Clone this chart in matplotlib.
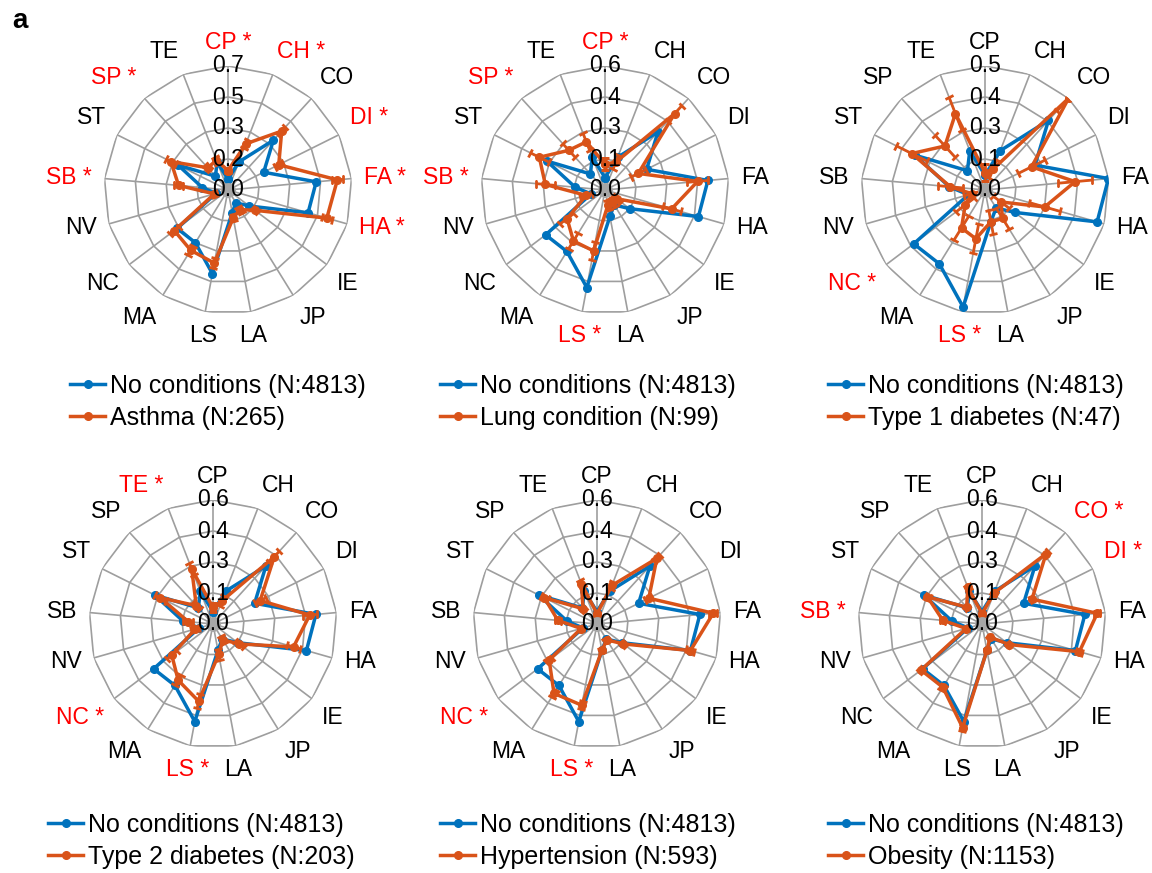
#!/usr/bin/env python3
import matplotlib
matplotlib.use("Agg")
import matplotlib.pyplot as plt
import numpy as np

plt.rcParams["font.family"] = ["Liberation Sans", "DejaVu Sans"]

CATEGORIES = ["CP", "CH", "CO", "DI", "FA", "HA", "IE", "JP", "LA",
              "LS", "MA", "NC", "NV", "SB", "ST", "SP", "TE"]

# reference group, same in every panel
NO_CONDITIONS = [0.06, 0.17, 0.38, 0.225, 0.50, 0.47, 0.15, 0.085, 0.13,
                 0.48, 0.35, 0.36, 0.07, 0.145, 0.315, 0.105, 0.17]
NO_CONDITIONS_LABEL = "No conditions (N:4813)"

ASTHMA = [0.11, 0.28, 0.45, 0.32, 0.62, 0.58, 0.19, 0.13, 0.16,
          0.42, 0.40, 0.38, 0.08, 0.28, 0.36, 0.17, 0.18]
ASTHMA_ERR = [0.015, 0.025, 0.03, 0.025, 0.03, 0.03, 0.02, 0.02, 0.02,
              0.03, 0.03, 0.03, 0.015, 0.025, 0.03, 0.02, 0.02]

LUNG = [0.125, 0.145, 0.50, 0.18, 0.45, 0.335, 0.07, 0.07, 0.075,
        0.30, 0.29, 0.23, 0.095, 0.29, 0.355, 0.26, 0.25]
LUNG_ERR = [0.03, 0.035, 0.05, 0.04, 0.05, 0.045, 0.025, 0.025, 0.025,
            0.045, 0.045, 0.04, 0.03, 0.045, 0.05, 0.045, 0.045]

TYPE1 = [0.07, 0.09, 0.50, 0.21, 0.365, 0.25, 0.08, 0.135, 0.13,
         0.20, 0.18, 0.10, 0.055, 0.14, 0.33, 0.24, 0.33]
TYPE1_ERR = [0.035, 0.04, 0.07, 0.06, 0.07, 0.065, 0.04, 0.05, 0.05,
             0.06, 0.055, 0.045, 0.035, 0.05, 0.07, 0.06, 0.07]

TYPE2 = [0.08, 0.12, 0.44, 0.255, 0.47, 0.405, 0.16, 0.09, 0.15,
         0.38, 0.32, 0.25, 0.09, 0.12, 0.285, 0.12, 0.285]
TYPE2_ERR = [0.02, 0.025, 0.035, 0.03, 0.035, 0.035, 0.025, 0.02, 0.025,
             0.035, 0.03, 0.03, 0.02, 0.025, 0.03, 0.025, 0.03]

HYPERTENSION = [0.05, 0.20, 0.43, 0.28, 0.565, 0.47, 0.16, 0.09, 0.13,
                0.40, 0.395, 0.29, 0.08, 0.19, 0.285, 0.10, 0.21]
HYPERTENSION_ERR = [0.01, 0.017, 0.02, 0.018, 0.02, 0.02, 0.015, 0.012, 0.014,
                    0.02, 0.02, 0.019, 0.011, 0.016, 0.019, 0.012, 0.017]

OBESITY = [0.05, 0.16, 0.46, 0.27, 0.56, 0.49, 0.165, 0.075, 0.13,
           0.51, 0.36, 0.37, 0.08, 0.19, 0.295, 0.11, 0.19]
OBESITY_ERR = [0.007, 0.011, 0.015, 0.013, 0.015, 0.015, 0.011, 0.008, 0.01,
               0.015, 0.014, 0.014, 0.008, 0.012, 0.013, 0.009, 0.012]

GROUP_LABELS = ["Asthma (N:265)", "Lung condition (N:99)", "Type 1 diabetes (N:47)",
                "Type 2 diabetes (N:203)", "Hypertension (N:593)", "Obesity (N:1153)"]
RMAX = [0.7, 0.6, 0.5, 0.6, 0.6, 0.6]
TICK_LABELS = [
    ["0.0", "0.2", "0.3", "0.5", "0.7"],
    ["0.0", "0.1", "0.3", "0.4", "0.6"],
    ["0.0", "0.1", "0.3", "0.4", "0.5"],
    ["0.0", "0.1", "0.3", "0.4", "0.6"],
    ["0.0", "0.1", "0.3", "0.4", "0.6"],
    ["0.0", "0.1", "0.3", "0.4", "0.6"],
]
SIGNIFICANT = [
    ["CP", "CH", "DI", "FA", "HA", "SB", "SP"],
    ["CP", "SB", "SP", "LS"],
    ["NC", "LS"],
    ["TE", "NC", "LS"],
    ["NC", "LS"],
    ["CO", "DI", "SB"],
]

BLUE = "#0072BD"
ORANGE = "#D95319"
GRID = "#9e9e9e"

W, H = 1152, 873
R_PX = 124
CENTERS = [(228, 190), (605, 190), (985, 190), (213, 624), (597, 624), (982, 624)]
LEGEND_POS = [(70, 374), (440, 374), (828, 374), (48, 813), (440, 813), (828, 813)]


def draw_radar(fig, center, group, err, rmax, tick_labels, sig):
    cx, cy = center
    rect = [(cx - R_PX) / W, 1 - (cy + R_PX) / H, 2 * R_PX / W, 2 * R_PX / H]
    ax = fig.add_axes(rect, projection="polar")
    ax.set_theta_zero_location("N")
    ax.set_theta_direction(-1)
    ax.set_ylim(0, rmax)
    ax.grid(False)
    ax.set_xticks([])
    ax.set_yticks([])
    ax.spines["polar"].set_visible(False)
    ax.patch.set_alpha(0)

    n = len(CATEGORIES)
    theta = np.linspace(0, 2 * np.pi, n, endpoint=False)
    closed = np.append(theta, theta[0])

    for r in np.linspace(0, rmax, 5)[1:]:
        ax.plot(closed, np.full(n + 1, r), color=GRID, lw=1.2, zorder=1)
    for t in theta:
        ax.plot([t, t], [0, rmax], color=GRID, lw=1.2, zorder=1)

    base = np.array(NO_CONDITIONS)
    grp = np.array(group)
    h1, = ax.plot(closed, np.append(base, base[0]), color=BLUE, lw=2.5,
                  marker="o", ms=5.5, zorder=3)
    ax.errorbar(theta, grp, yerr=err, fmt="none", ecolor=ORANGE,
                elinewidth=2, capsize=3, capthick=2, zorder=3)
    h2, = ax.plot(closed, np.append(grp, grp[0]), color=ORANGE, lw=2.5,
                  marker="o", ms=5.5, zorder=3)

    ax.scatter([0], [0], s=115, color="#a6a6a6", zorder=4, linewidths=0)

    for r, lab in zip(np.linspace(0, rmax, 5), tick_labels):
        ax.text(0, r, lab, ha="center", va="center", fontsize=16.5, zorder=6)

    for t, cat in zip(theta, CATEGORIES):
        s, c = np.sin(t), np.cos(t)
        ha = "left" if s > 0.3 else ("right" if s < -0.3 else "center")
        va = "bottom" if c > 0.3 else ("top" if c < -0.3 else "center")
        if cat in sig:
            ax.text(t, rmax * 1.1, cat + " *", ha=ha, va=va, fontsize=16.5, color="#ff0000")
        else:
            ax.text(t, rmax * 1.1, cat, ha=ha, va=va, fontsize=16.5, color="black")
    return h1, h2


def main() -> None:
    fig = plt.figure(figsize=(W / 100, H / 100), dpi=100)

    groups = [ASTHMA, LUNG, TYPE1, TYPE2, HYPERTENSION, OBESITY]
    errs = [ASTHMA_ERR, LUNG_ERR, TYPE1_ERR, TYPE2_ERR, HYPERTENSION_ERR, OBESITY_ERR]

    for i in range(6):
        h1, h2 = draw_radar(fig, CENTERS[i], groups[i], errs[i], RMAX[i],
                            TICK_LABELS[i], SIGNIFICANT[i])
        lx, ly = LEGEND_POS[i]
        fig.legend([h1, h2], [NO_CONDITIONS_LABEL, GROUP_LABELS[i]],
                   loc="upper left", bbox_to_anchor=(lx / W, 1 - ly / H),
                   frameon=False, fontsize=18, borderpad=0, borderaxespad=0,
                   handlelength=1.4, handletextpad=0.2, labelspacing=0.32)

    fig.text(12 / W, 1 - 8 / H, "a", fontsize=20, fontweight="bold", va="top", ha="left")

    fig.savefig("out.png", dpi=100)
    plt.close(fig)


if __name__ == "__main__":
    main()
